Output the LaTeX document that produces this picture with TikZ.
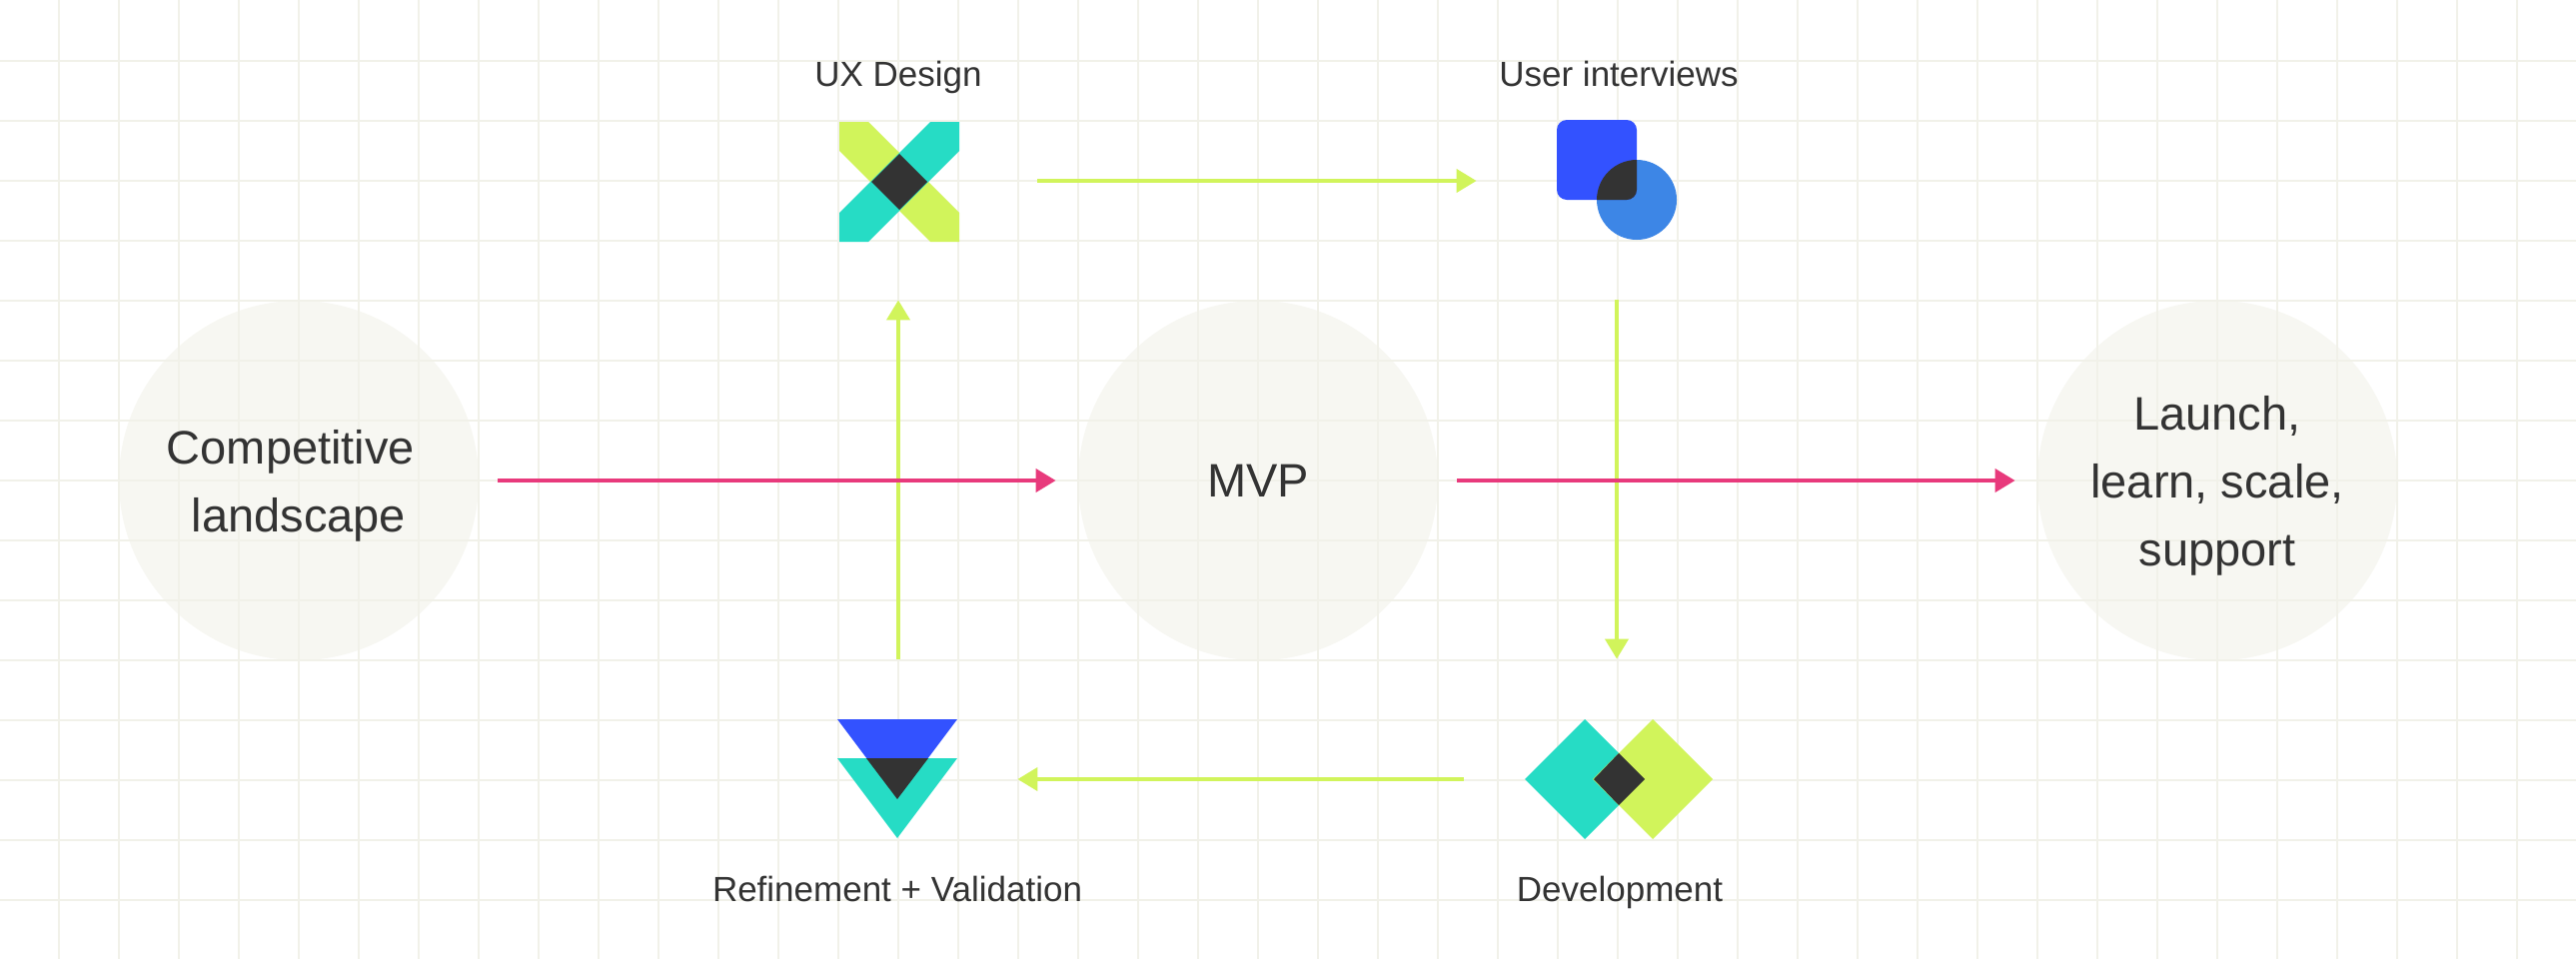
\documentclass[tikz,border=0pt]{standalone}
\usepackage{fontspec}
\setmainfont{Liberation Sans}
\usetikzlibrary{arrows.meta,positioning,shapes.geometric}
\definecolor{gridline}{HTML}{F1F1E9}
\definecolor{ink}{HTML}{333333}
\definecolor{limeg}{HTML}{D1F45B}
\definecolor{tealg}{HTML}{26DCC5}
\definecolor{blueg}{HTML}{3352FF}
\definecolor{skyg}{HTML}{3D86E6}
\definecolor{pinkg}{HTML}{E83A7C}
\newcommand{\toppad}{\rule{0pt}{22pt}}
\tikzset{
    stage/.style={circle,fill=gridline,fill opacity=0.57,text opacity=1,text=ink,minimum size=180pt,
        inner sep=0pt,align=center,font=\fontsize{23.5}{34}\selectfont},
    icon/.style={minimum size=60pt,inner sep=0pt},
    caption/.style={anchor=base,text=ink,font=\fontsize{17.5}{21}\selectfont},
    flow/.style={-{Triangle[length=10pt,width=11.5pt]},line width=2pt},
    limeflow/.style={flow,limeg},
    pinkflow/.style={flow,pinkg}
}

\begin{document}
\begin{tikzpicture}[x=0.5pt,y=-0.5pt]
    \useasboundingbox (0,0) rectangle (2578,960);
    \fill[white] (0,0) rectangle (2578,960);
    \foreach \gx in {59,119,...,2519}
        \draw[gridline,line width=1pt] (\gx,0) -- (\gx,960);
    \foreach \gy in {61,121,...,901}
        \draw[gridline,line width=1pt] (0,\gy) -- (2578,\gy);

    \node[stage] (landscape) at (299,481) {\toppad Competitive\hspace*{8pt}\\landscape};
    \node[stage] (mvp)       at (1259,481) {MVP};
    \node[stage] (launch)    at (2219,481) {\toppad Launch,\\learn, scale,\\support};

    \node[icon] (ux)     at (900,182) {};
    \node[icon] (users)  at (1618,180) {};
    \node[icon] (dev)    at (1620,780) {};
    \node[icon] (refine) at (898,780) {};

    % UX Design
    \fill[limeg] (840,122) -- (869,122) -- (960,213) -- (960,242) -- (931,242) -- (840,151) -- cycle;
    \fill[tealg] (960,122) -- (931,122) -- (840,213) -- (840,242) -- (869,242) -- (960,151) -- cycle;
    \fill[ink] (900,154) -- (928,182) -- (900,210) -- (872,182) -- cycle;
    % User interviews
    \fill[skyg] (1638,200) circle[radius=40];
    \fill[blueg,rounded corners=5pt] (1558,120) rectangle (1638,200);
    \begin{scope}
        \clip (1638,200) circle[radius=40];
        \fill[ink,rounded corners=5pt] (1558,120) rectangle (1638,200);
    \end{scope}
    % Development
    \fill[tealg] (1526,780) -- (1586,720) -- (1646,780) -- (1586,840) -- cycle;
    \fill[limeg] (1594,780) -- (1654,720) -- (1714,780) -- (1654,840) -- cycle;
    \fill[ink] (1595,780) -- (1620,754) -- (1646,780) -- (1620,806) -- cycle;
    % Refinement
    \fill[blueg] (838,720) -- (958,720) -- (898,800) -- cycle;
    \fill[tealg] (838,759) -- (958,759) -- (898,839) -- cycle;
    \fill[ink] (867,759) -- (929,759) -- (898,800) -- cycle;

    \node[caption] (uxtext)     at (899,86) {UX Design};
    \node[caption] (userstext)  at (1620,86) {User interviews};
    \node[caption] (refinetext) at (898,902) {Refinement + Validation};
    \node[caption] (devtext)    at (1621,902) {Development};

    \draw[limeflow,shorten <=39pt,shorten >=40pt] (ux.east |- 0,181) -- (users.west |- 0,181);
    \draw[limeflow,shorten <=30pt,shorten >=30pt] (users.south -| 1618,0) -- (dev.north -| 1618,0);
    \draw[limeflow,shorten <=47.5pt,shorten >=30pt] (dev) -- (refine);
    \draw[limeflow,shorten <=30pt,shorten >=29pt] (refine.north -| 899,0) -- (ux.south -| 899,0);
    \draw[pinkflow,shorten <=9.5pt,shorten >=11pt] (landscape) -- (mvp);
    \draw[pinkflow,shorten <=9.5pt,shorten >=11pt] (mvp) -- (launch);
\end{tikzpicture}
\end{document}
